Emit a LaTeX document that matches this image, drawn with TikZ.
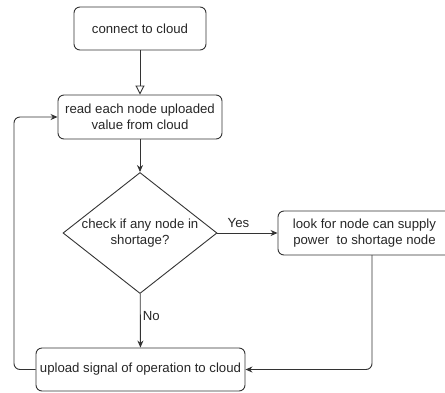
\documentclass[tikz,border=0pt]{standalone}
\usepackage{fontspec}
\setmainfont{Liberation Sans}
\usetikzlibrary{shapes.geometric,arrows.meta}
\tikzset{
    flowbox/.style={draw=black!80, line width=0.9pt, rounded corners=6pt, align=center,
        inner sep=0pt, text=black!85},
    flowline/.style={draw=black!80, line width=0.9pt, -{Stealth[length=7pt,width=6pt]}},
}
\begin{document}
\begin{tikzpicture}[x=1pt, y=-1pt, font=\fontsize{13.2}{15.5}\selectfont]
    \useasboundingbox (0,0) rectangle (445,392);

    % start
    \node[flowbox, minimum width=132pt, minimum height=43pt] (connect) at (140,28.5) {connect to cloud};

    % read values
    \node[flowbox, minimum width=164pt, minimum height=44pt] (read) at (140,117) {read each node uploaded\\value from cloud};

    % decision
    \node[draw=black!80, line width=0.9pt, shape=diamond, aspect=1.27, inner sep=0pt,
        minimum width=154pt, minimum height=121pt, align=center, text=black!85] (check) at (140,233)
        {check if any node in\\shortage?};

    % supply (runs past the right edge)
    \node[flowbox, minimum width=173pt, minimum height=44pt] (supply) at (364.5,233) {look for node can supply\\power\ \ to shortage node};
    \coordinate (supplyout) at (372,255);

    % upload
    \node[flowbox, minimum width=209pt, minimum height=43pt] (upload) at (140.5,369.5) {upload signal of operation to cloud};
    \coordinate (loopturn) at (14,369.5);

    % connectors
    \draw[draw=black!80, line width=0.9pt, -{Triangle[open, length=9pt, width=9pt]}] (connect) -- (read);
    \draw[flowline] (read) -- (check);
    \draw[flowline] (check) -- node[above, text=black!85, yshift=2pt, xshift=-9pt] {Yes} (supply);
    \draw[flowline] (check) -- node[right, text=black!85, inner sep=2pt, yshift=5pt] {No} (upload);
    \draw[flowline, rounded corners=6pt] (supplyout) |- (upload.east);
    \draw[flowline, rounded corners=6pt] (upload.west) -- (loopturn) |- (read.west);
\end{tikzpicture}
\end{document}
